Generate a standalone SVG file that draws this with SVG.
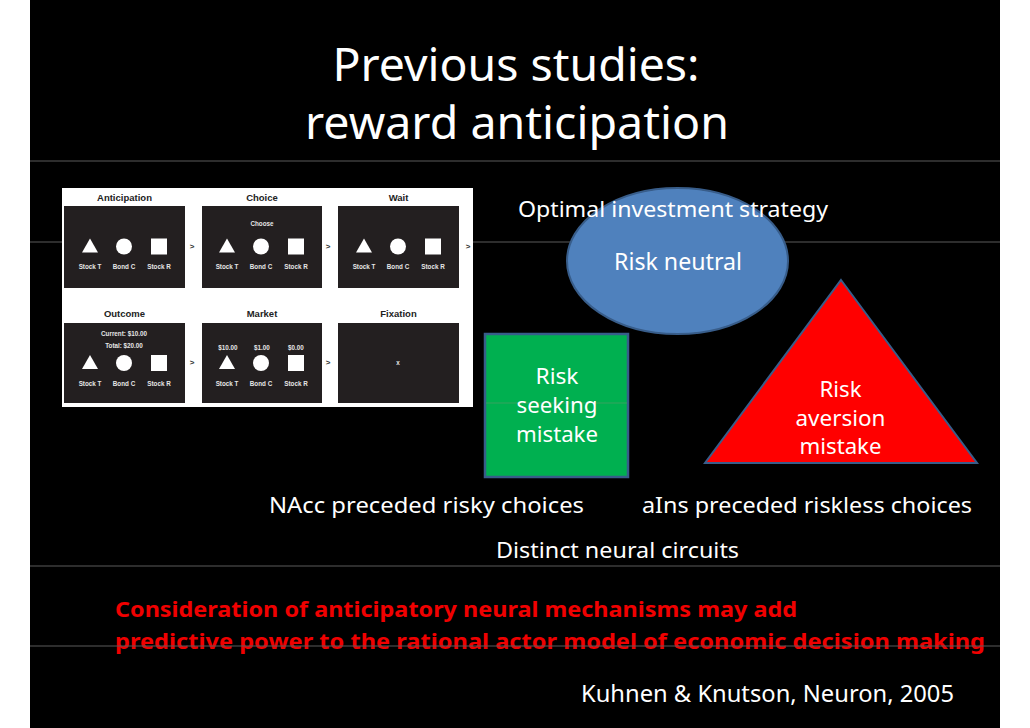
<svg xmlns="http://www.w3.org/2000/svg" width="1030" height="728" viewBox="0 0 1030 728">
<style>
.t{font-family:"Noto Sans","Open Sans","Liberation Sans",sans-serif;fill:#ffffff}
.c{text-anchor:middle}
.rl{stroke:#5a5a5a;stroke-width:1}
.pt{font-family:"Liberation Sans",Arial,sans-serif;font-weight:bold;font-size:9.5px;fill:#222;text-anchor:middle}
.pl{font-family:"Liberation Sans",Arial,sans-serif;font-weight:bold;font-size:6.3px;fill:#e6e6e6;text-anchor:middle}
.ar{font-family:"Liberation Sans",Arial,sans-serif;font-weight:bold;font-size:8px;fill:#333;text-anchor:middle}
.pn{fill:#231f20}
.red{font-family:"Noto Sans","Open Sans","Liberation Sans",sans-serif;font-weight:bold;font-size:22px;fill:#f00000}
</style>
<defs>
<g id="trio">
<polygon points="26,32.5 34,46.5 18,46.5" fill="#fff"/>
<circle cx="60" cy="40.5" r="8" fill="#fff"/>
<rect x="87" y="32.5" width="16" height="16" fill="#fff"/>
<text class="pl" x="26" y="63">Stock T</text>
<text class="pl" x="60" y="63">Bond C</text>
<text class="pl" x="95" y="63">Stock R</text>
</g>
</defs>
<rect x="0" y="0" width="1030" height="728" fill="#ffffff"/>
<rect x="30" y="0" width="970" height="728" fill="#000000"/>
<g id="rules">
<line class="rl" x1="30" y1="161" x2="1000" y2="161"/>
<line class="rl" x1="30" y1="242" x2="1000" y2="242"/>
<line class="rl" x1="30" y1="566" x2="1000" y2="566"/>
</g>
<g id="title">
<text class="t c" x="516" y="81" font-size="46" textLength="367" lengthAdjust="spacingAndGlyphs">Previous studies:</text>
<text class="t c" x="517" y="139" font-size="46" textLength="424" lengthAdjust="spacingAndGlyphs">reward anticipation</text>
</g>
<g id="task-figure">
<rect x="62" y="188" width="411" height="219" fill="#ffffff"/>
<text class="pt" x="124.5" y="200.5">Anticipation</text>
<text class="pt" x="262" y="200.5">Choice</text>
<text class="pt" x="398.5" y="200.5">Wait</text>
<text class="pt" x="124.5" y="316.5">Outcome</text>
<text class="pt" x="262" y="316.5">Market</text>
<text class="pt" x="398.5" y="316.5">Fixation</text>
<rect class="pn" x="64" y="206" width="121" height="82"/>
<rect class="pn" x="202" y="206" width="120" height="82"/>
<rect class="pn" x="338" y="206" width="121" height="82"/>
<rect class="pn" x="64" y="323" width="121" height="80"/>
<rect class="pn" x="202" y="323" width="120" height="80"/>
<rect class="pn" x="338" y="323" width="121" height="80"/>
<use href="#trio" x="64" y="206"/>
<use href="#trio" x="201" y="206"/>
<use href="#trio" x="338" y="206"/>
<use href="#trio" x="64" y="322.5"/>
<use href="#trio" x="201" y="322.5"/>
<text class="pl" x="262" y="226" font-weight="normal" fill="#cccccc">Choose</text>
<text class="pl" x="124" y="336">Current: $10.00</text>
<text class="pl" x="124" y="348">Total: $20.00</text>
<text class="pl" x="228" y="350">$10.00</text>
<text class="pl" x="262" y="350">$1.00</text>
<text class="pl" x="296" y="350">$0.00</text>
<text class="pl" x="398" y="365" font-weight="normal">x</text>
<text class="ar" x="192" y="249">&gt;</text>
<text class="ar" x="328" y="249">&gt;</text>
<text class="ar" x="468" y="249">&gt;</text>
<text class="ar" x="192" y="365">&gt;</text>
<text class="ar" x="328" y="365">&gt;</text>
</g>
<g id="risk-neutral">
<ellipse cx="677.5" cy="261" rx="110.5" ry="73" fill="#4f81bd" stroke="#385d8a" stroke-width="2"/>
<text class="t c" x="678" y="270" font-size="24" textLength="128" lengthAdjust="spacingAndGlyphs">Risk neutral</text>
</g>
<g id="optimal-label">
<text class="t c" x="673" y="217" font-size="22" textLength="310" lengthAdjust="spacingAndGlyphs">Optimal investment strategy</text>
</g>
<g id="risk-seeking">
<rect x="485" y="334" width="143" height="143" fill="#00b050" stroke="#385d8a" stroke-width="2.5"/>
<line x1="486" y1="403" x2="627" y2="403" stroke="#5a9a6a" stroke-width="1" opacity="0.6"/>
<text class="t c" x="557" y="384" font-size="22" textLength="43" lengthAdjust="spacingAndGlyphs">Risk</text>
<text class="t c" x="557" y="413" font-size="22" textLength="81" lengthAdjust="spacingAndGlyphs">seeking</text>
<text class="t c" x="557" y="442" font-size="22" textLength="82" lengthAdjust="spacingAndGlyphs">mistake</text>
</g>
<g id="risk-aversion">
<polygon points="841,280 977,463 705,463" fill="#ff0000" stroke="#385d8a" stroke-width="2"/>
<text class="t c" x="840.5" y="397" font-size="22" textLength="42" lengthAdjust="spacingAndGlyphs">Risk</text>
<text class="t c" x="840.5" y="426" font-size="22" textLength="90" lengthAdjust="spacingAndGlyphs">aversion</text>
<text class="t c" x="840.5" y="454" font-size="22" textLength="82" lengthAdjust="spacingAndGlyphs">mistake</text>
</g>
<g id="connectors"></g>
<g id="findings">
<text class="t" x="269" y="513" font-size="22" textLength="315" lengthAdjust="spacingAndGlyphs">NAcc preceded risky choices</text>
<text class="t" x="642" y="513" font-size="22" textLength="330" lengthAdjust="spacingAndGlyphs">aIns preceded riskless choices</text>
<text class="t" x="496" y="558" font-size="22" textLength="243" lengthAdjust="spacingAndGlyphs">Distinct neural circuits</text>
</g>
<g id="conclusion">
<text class="red" x="115" y="617" textLength="682" lengthAdjust="spacingAndGlyphs">Consideration of anticipatory neural mechanisms may add</text>
<text class="red" x="115" y="649" textLength="870" lengthAdjust="spacingAndGlyphs">predictive power to the rational actor model of economic decision making</text>
</g>
<line class="rl" x1="30" y1="646" x2="1000" y2="646"/>
<g id="citation">
<text class="t" x="581" y="702" font-size="23" textLength="373" lengthAdjust="spacingAndGlyphs">Kuhnen &amp; Knutson, Neuron, 2005</text>
</g>
</svg>
